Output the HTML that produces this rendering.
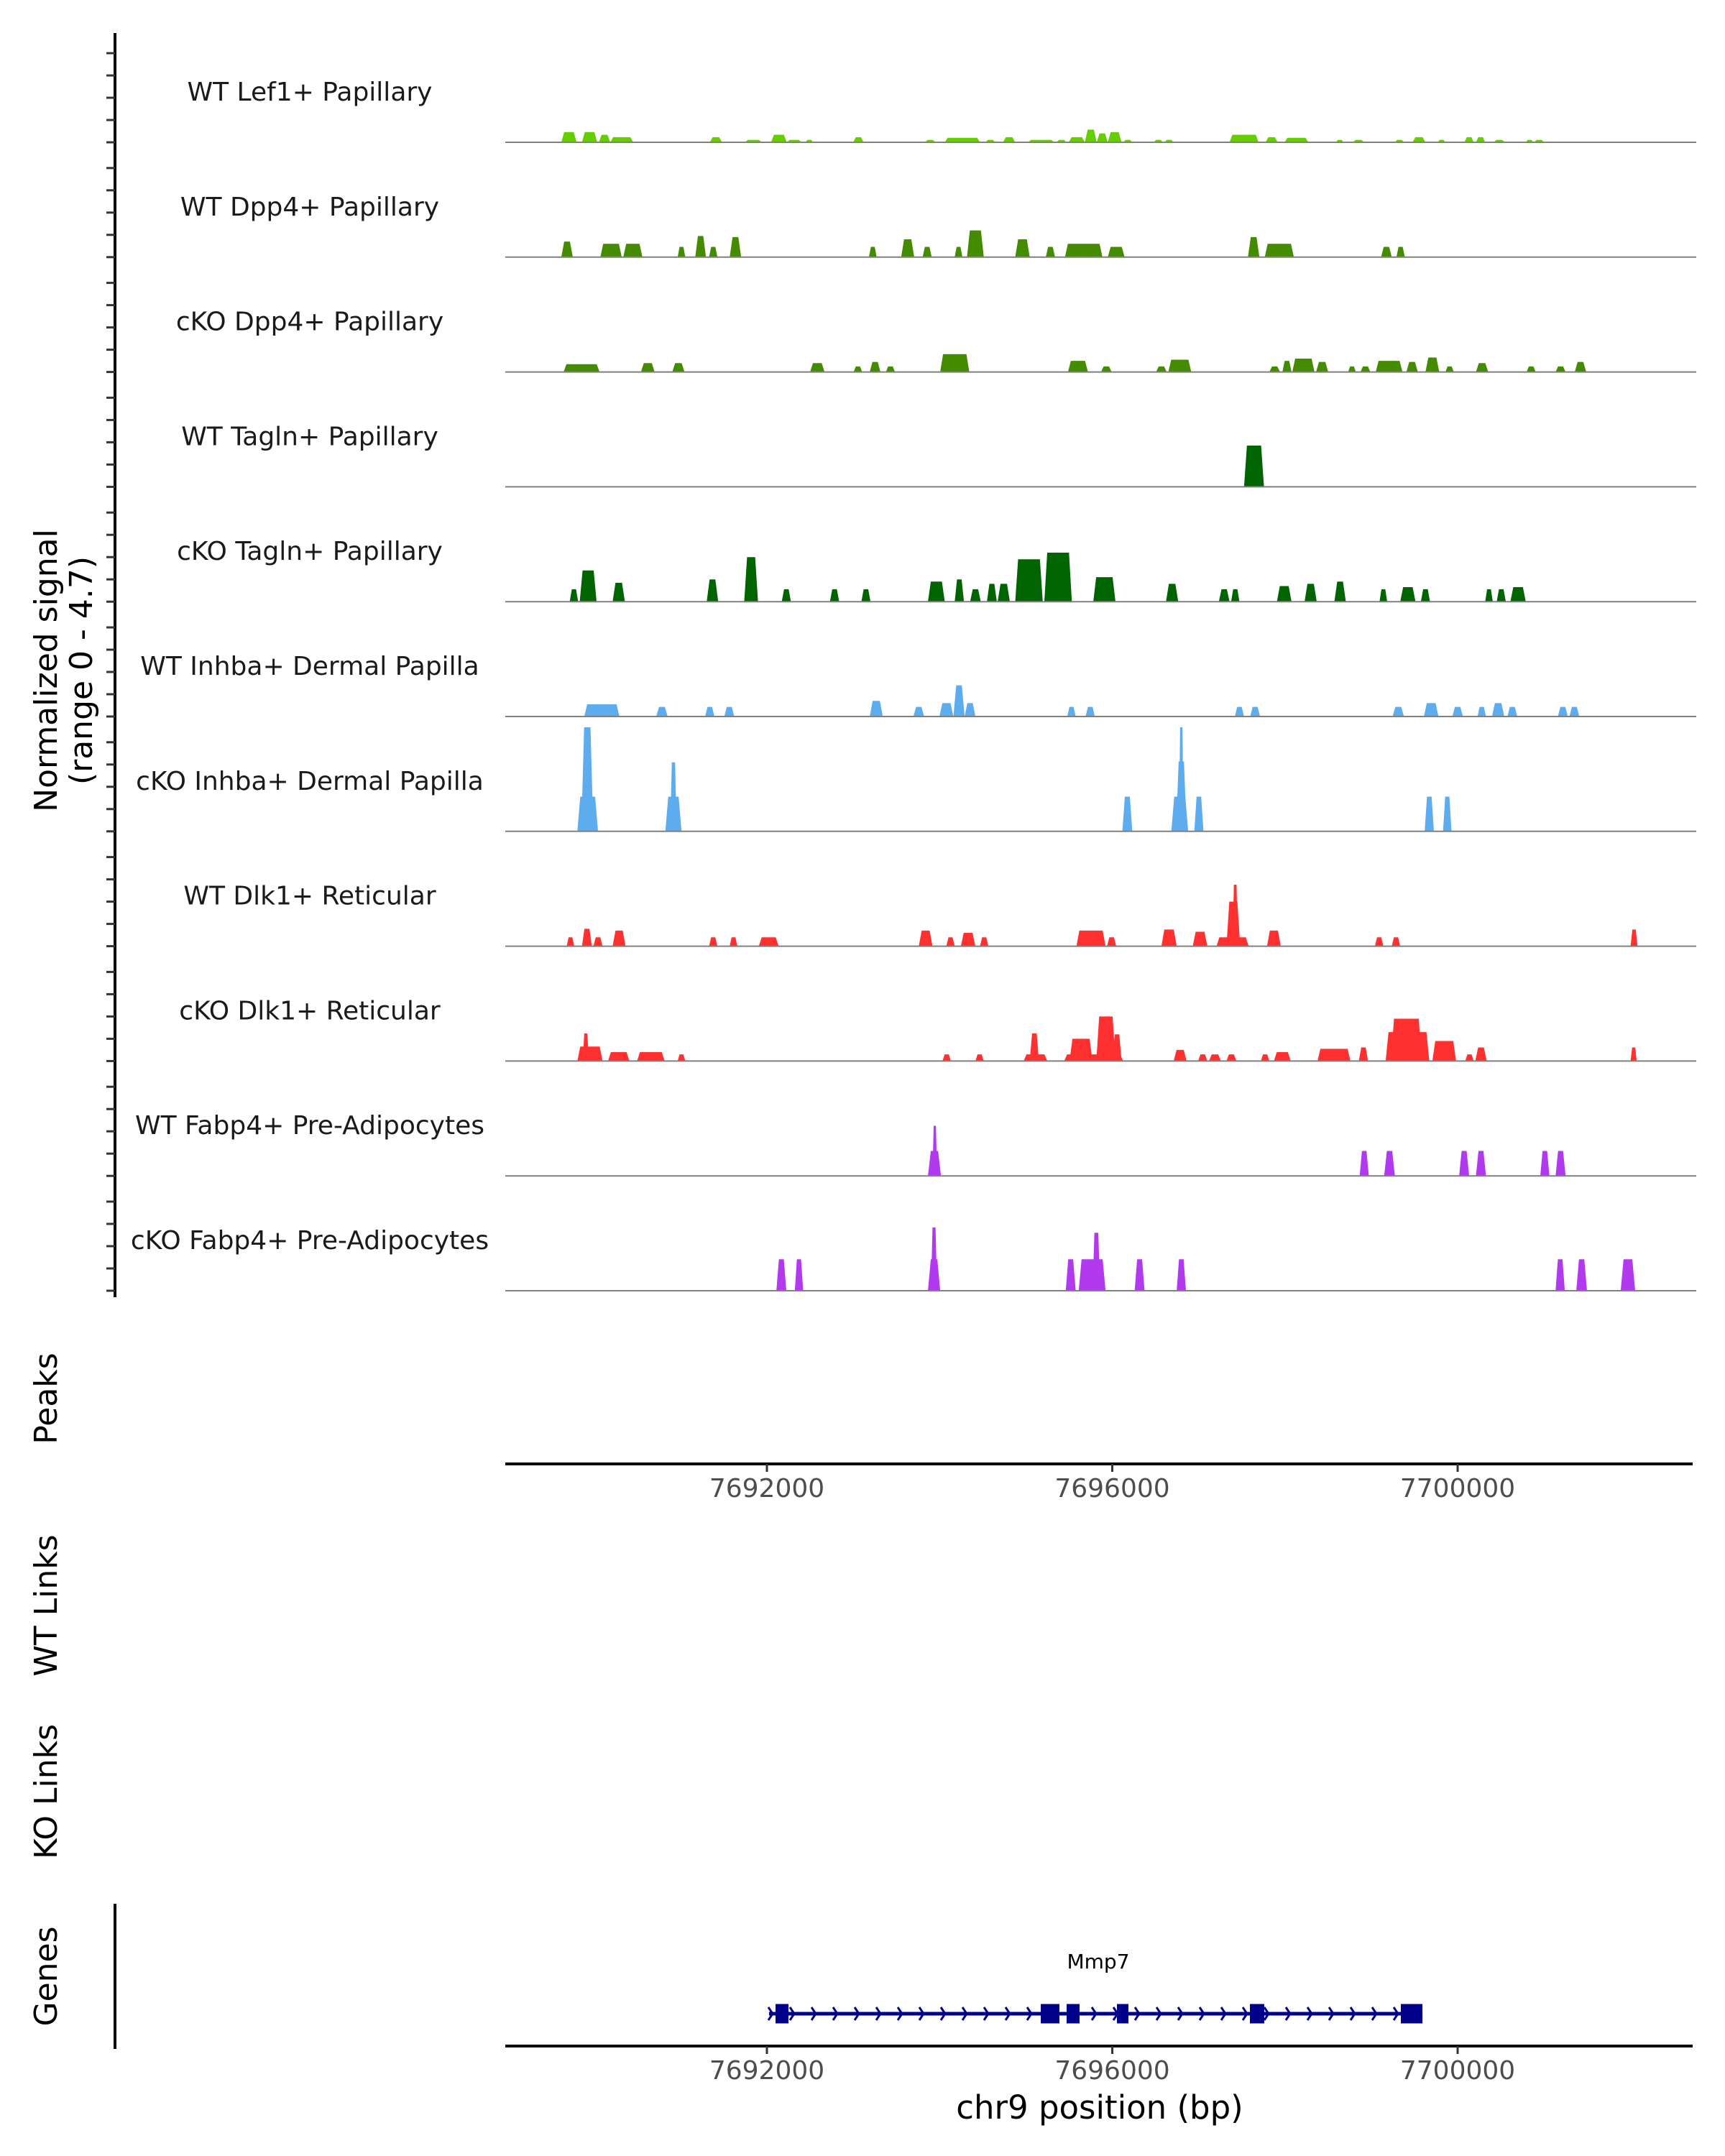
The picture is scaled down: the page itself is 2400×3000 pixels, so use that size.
<!DOCTYPE html>
<html><head><meta charset="utf-8"><style>
html,body{margin:0;padding:0;background:#fff;}
svg{display:block;font-family:"DejaVu Sans","Liberation Sans",sans-serif;}
</style></head><body>
<svg id="chart" width="2400" height="3000" viewBox="0 0 2400 3000" xmlns="http://www.w3.org/2000/svg">
<rect x="0" y="0" width="2400" height="3000" fill="#fff"/>
<g id="tracks"></g>
<line x1="160" y1="46" x2="160" y2="1805" stroke="#000" stroke-width="4"/>
<g id="yticks"></g>
<g font-size="44" fill="#000" text-anchor="middle">
<text transform="translate(79,933) rotate(-90)">Normalized signal</text>
<text transform="translate(128,933) rotate(-90)">(range 0 - 4.7)</text>
</g>
<text transform="translate(79,1946) rotate(-90)" font-size="44" text-anchor="middle">Peaks</text>
<text transform="translate(79,2234) rotate(-90)" font-size="44" text-anchor="middle">WT Links</text>
<text transform="translate(79,2493) rotate(-90)" font-size="44" text-anchor="middle">KO Links</text>
<text transform="translate(79,2750) rotate(-90)" font-size="44" text-anchor="middle">Genes</text>
<line x1="160" y1="2649" x2="160" y2="2851" stroke="#000" stroke-width="4"/>
<g id="axes"></g>
<g id="gene"></g>
<text x="1530" y="2948" font-size="45" text-anchor="middle" fill="#000">chr9 position (bp)</text>
</svg>
<script>
const trackNames = ["WT Lef1+ Papillary","WT Dpp4+ Papillary","cKO Dpp4+ Papillary","WT Tagln+ Papillary","cKO Tagln+ Papillary","WT Inhba+ Dermal Papilla","cKO Inhba+ Dermal Papilla","WT Dlk1+ Reticular","cKO Dlk1+ Reticular","WT Fabp4+ Pre-Adipocytes","cKO Fabp4+ Pre-Adipocytes"];
const trackColors = ["#66cd00","#458b00","#458b00","#006400","#006400","#5cacee","#5cacee","#ff3030","#ff3030","#b23aee","#b23aee"];
const lef1WT = [[7689619,7689796,.46],[7689858,7690035,.46],[7690053,7690186,.34],[7690186,7690452,.23],[7691339,7691480,.23],[7691746,7691941,.11],[7692048,7692230,.34],[7692230,7692402,.11],[7692447,7692535,.11],[7693000,7693120,.23],[7693830,7693954,.11],[7694060,7694468,.2],[7694530,7694645,.11],[7694734,7694876,.23],[7695026,7695328,.11],[7695354,7695470,.11],[7695496,7695682,.23],[7695682,7695820,.57],[7695820,7695948,.4],[7695948,7696108,.45],[7696126,7696232,.11],[7696480,7696587,.11],[7696604,7696711,.11],[7697358,7697695,.34],[7697775,7697916,.23],[7697996,7698271,.2],[7698590,7698679,.11],[7698785,7698918,.11],[7699273,7699379,.11],[7699477,7699627,.23],[7699769,7699858,.11],[7700079,7700186,.23],[7700212,7700319,.23],[7700416,7700549,.11],[7700789,7700877,.11],[7700886,7701001,.11]];
const dpp4WT = [[7689619,7689752,.7],[7690071,7690319,.6],[7690337,7690558,.6],[7690966,7691055,.46],[7691170,7691294,.95],[7691330,7691427,.46],[7691569,7691702,.9],[7693182,7693271,.46],[7693555,7693706,.8],[7693803,7693909,.46],[7694175,7694264,.46],[7694317,7694512,1.2],[7694876,7695044,.8],[7695230,7695337,.46],[7695452,7695886,.6],[7695948,7696143,.46],[7697571,7697704,.9],[7697766,7698103,.6],[7699113,7699237,.46],[7699291,7699388,.46]];
const dpp4KO = [[7689645,7690062,.35],[7690541,7690700,.4],[7690904,7691046,.4],[7692500,7692668,.4],[7693005,7693103,.25],[7693191,7693315,.45],[7693378,7693484,.25],[7694007,7694344,.8],[7695487,7695718,.5],[7695869,7695993,.25],[7696507,7696631,.25],[7696649,7696915,.55],[7697819,7697943,.25],[7697970,7698076,.5],[7698085,7698342,.6],[7698360,7698501,.45],[7698732,7698821,.25],[7698874,7698989,.25],[7699051,7699361,.5],[7699406,7699539,.45],[7699627,7699787,.65],[7699858,7699955,.25],[7700212,7700354,.4],[7700798,7700904,.25],[7701134,7701250,.25],[7701356,7701489,.45]];
const taglnWT = [[7697526,7697757,1.85]];
const taglnKO = [[7689716,7689814,.56],[7689832,7690027,1.4],[7690213,7690355,.85],[7691303,7691436,1.0],[7691737,7691897,2.0],[7692172,7692278,.56],[7692730,7692837,.56],[7693094,7693200,.56],[7693865,7694060,.9],[7694175,7694282,1.0],[7694353,7694477,.56],[7694548,7694663,.8],[7694672,7694814,.8],[7694876,7695195,1.9],[7695213,7695532,2.2],[7695780,7696037,1.1],[7696622,7696764,.8],[7697234,7697358,.56],[7697376,7697473,.56],[7697907,7698076,.7],[7698227,7698368,.8],[7698572,7698705,.9],[7699095,7699184,.56],[7699335,7699512,.65],[7699574,7699680,.56],[7700319,7700407,.56],[7700452,7700558,.56],[7700611,7700789,.65]];
const inhbaWT = [[7689885,7690292,.55],[7690718,7690851,.43],[7691285,7691392,.43],[7691507,7691622,.43],[7693191,7693342,.7],[7693697,7693821,.43],[7693998,7694160,.6],[7694160,7694290,1.4],[7694290,7694415,.6],[7695479,7695576,.43],[7695691,7695798,.43],[7697420,7697526,.43],[7697597,7697712,.43],[7699246,7699379,.43],[7699609,7699778,.6],[7699938,7700062,.43],[7700230,7700328,.43],[7700398,7700540,.6],[7700576,7700691,.43],[7701161,7701276,.43],[7701294,7701409,.43]];
const inhbaKO = [[7689805,7690044,1.56],[7689850,7689990,4.67],[7690824,7691011,1.56],[7690880,7690955,3.1],[7696117,7696232,1.56],[7696684,7696879,1.56],[7696738,7696861,3.14],[7696772,7696826,4.67],[7696950,7697056,1.56],[7699618,7699725,1.56],[7699831,7699929,1.56]];
const dlk1WT = [[7689681,7689769,.4],[7689858,7689973,.78],[7689991,7690097,.4],[7690213,7690363,.7],[7691330,7691427,.4],[7691569,7691658,.4],[7691906,7692136,.4],[7693759,7693918,.7],[7694078,7694175,.4],[7694246,7694415,.6],[7694468,7694565,.4],[7695585,7695922,.7],[7695939,7696046,.4],[7696569,7696746,.75],[7696932,7697101,.65],[7697207,7697580,.4],[7697322,7697482,2.0],[7697393,7697455,2.76],[7697792,7697952,.7],[7699042,7699140,.4],[7699237,7699335,.4],[7702003,7702083,.75]];
const dlk1KO = [[7689805,7690097,.65],[7689867,7689938,1.24],[7690160,7690408,.4],[7690496,7690816,.4],[7690966,7691055,.3],[7694034,7694131,.3],[7694415,7694512,.3],[7694973,7695248,.3],[7695044,7695151,1.24],[7695443,7696126,.3],[7695505,7695771,1.0],[7695815,7696037,2.0],[7696001,7696108,1.2],[7696711,7696861,.5],[7696994,7697101,.3],[7697119,7697260,.3],[7697322,7697438,.3],[7697721,7697819,.3],[7697872,7698067,.4],[7698377,7698759,.55],[7698856,7698962,.61],[7699166,7699672,1.3],[7699229,7699583,1.9],[7699707,7699982,.9],[7700088,7700186,.3],[7700204,7700337,.61],[7702003,7702074,.61]];
const fabp4WT = [[7693865,7694016,1.12],[7693918,7693971,2.25],[7698865,7698971,1.12],[7699149,7699273,1.12],[7700017,7700133,1.12],[7700212,7700328,1.12],[7700957,7701063,1.12],[7701134,7701250,1.12]];
const fabp4KO = [[7692110,7692225,1.41],[7692323,7692420,1.41],[7693865,7694007,1.41],[7693900,7693971,2.84],[7695461,7695576,1.41],[7695611,7695922,1.41],[7695771,7695860,2.6],[7696259,7696374,1.41],[7696746,7696853,1.41],[7701134,7701241,1.41],[7701374,7701498,1.41],[7701888,7702056,1.41]];
const trackData = [lef1WT,dpp4WT,dpp4KO,taglnWT,taglnKO,inhbaWT,inhbaKO,dlk1WT,dlk1KO,fabp4WT,fabp4KO];
const xTicks = [7692000,7696000,7700000];
const xTickLabels = ["7692000","7696000","7700000"];
const signalTicks = [0,1,2,3,4];
const geneName = "Mmp7";
const geneSpan = [7692025,7699592];
const geneExons = [[7692100,7692250],[7695172,7695388],[7695471,7695621],[7696054,7696187],[7697594,7697760],[7699342,7699592]];
</script>
<script>
const NS="http://www.w3.org/2000/svg";
const X0=703,X1=2355;
function xs(bp){return 1067+(bp-7692000)*0.12013;}
function baseY(i){return 198+i*159.8;}
function ys(i,v){return baseY(i)-v*31;}
function mk(tag,attrs,parent){const e=document.createElementNS(NS,tag);for(const k in attrs)e.setAttribute(k,attrs[k]);parent.appendChild(e);return e;}
const tracks=document.getElementById('tracks');
const yticks=document.getElementById('yticks');
trackNames.forEach((name,i)=>{
  const g=mk('g',{},tracks);
  
  
  trackData[i].forEach(p=>{
    const a=xs(p[0]),b=xs(p[1]),w=b-a,r=Math.min(w*0.25,4);
    const y0=baseY(i),y1=ys(i,p[2]);
    const poly=mk('polygon',{points:`${a},${y0} ${a+r},${y1} ${b-r},${y1} ${b},${y0}`,fill:trackColors[i]},g);
    
    
  });
  const bl=mk('line',{x1:X0,x2:2360,y1:baseY(i),y2:baseY(i),stroke:'#808080','stroke-width':2},g);
  
  
  const t=mk('text',{x:431,y:baseY(i)-71+13,'font-size':36,'text-anchor':'middle',fill:'#1a1a1a'},g);
  t.textContent=name;
  
  
  signalTicks.forEach(v=>{
    const tk=mk('line',{x1:148,x2:160,y1:ys(i,v),y2:ys(i,v),stroke:'#333','stroke-width':3},yticks);
    
    
  });
});
const axes=document.getElementById('axes');
[[2037,2070],[2847,2880]].forEach(([ay,ly])=>{
  const al=mk('line',{x1:X0,x2:X1,y1:ay,y2:ay,stroke:'#000','stroke-width':4},axes);
  
  
  xTicks.forEach((bp,j)=>{
    const tk=mk('line',{x1:xs(bp),x2:xs(bp),y1:ay,y2:ay+11,stroke:'#333','stroke-width':3},axes);
    
    
    const tl=mk('text',{x:xs(bp),y:ly+13,'font-size':36,'text-anchor':'middle',fill:'#4d4d4d'},axes);
    tl.textContent=xTickLabels[j];
    
    
  });
});
const gene=document.getElementById('gene');
const gy=2802;
const gl=mk('line',{x1:xs(geneSpan[0]),x2:xs(geneSpan[1]),y1:gy,y2:gy,stroke:'#00008b','stroke-width':5},gene);


for(let x=xs(geneSpan[0])+2;x<xs(geneSpan[1])-10;x+=30){
  const c=mk('polyline',{points:`${x-3},${gy-9} ${x+3},${gy} ${x-3},${gy+9}`,fill:'none',stroke:'#00008b','stroke-width':3},gene);
  
  
}
geneExons.forEach(e=>{
  const r=mk('rect',{x:xs(e[0]),y:gy-13.5,width:xs(e[1])-xs(e[0]),height:27,fill:'#00008b'},gene);
  
  
});
const gn=mk('text',{x:1528,y:2739,'font-size':28,'text-anchor':'middle',fill:'#000'},gene);
gn.textContent=geneName;


</script>
</body></html>
